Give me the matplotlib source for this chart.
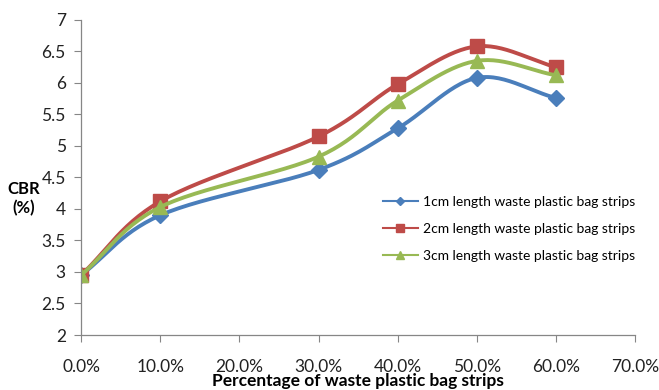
import numpy as np
import matplotlib
matplotlib.use("Agg")
import matplotlib.pyplot as plt
from matplotlib.ticker import FuncFormatter, MultipleLocator

plt.rcParams['font.family'] = ['Lato', 'DejaVu Sans']

x_pct = [0, 10, 30, 40, 50, 60]
cbr_1cm = [2.95, 3.90, 4.62, 5.28, 6.08, 5.76]
cbr_2cm = [2.95, 4.12, 5.15, 5.98, 6.58, 6.25]
cbr_3cm = [2.95, 4.03, 4.83, 5.72, 6.35, 6.12]
labels = ["1cm length waste plastic bag strips",
          "2cm length waste plastic bag strips",
          "3cm length waste plastic bag strips"]
colors = ["#4A7EBB", "#BE4B48", "#98B954"]
markers = ["D", "s", "^"]
msizes = [8, 10, 10]


def smooth(xs, ys, n=30):
    # Catmull-Rom style smoothing similar to Excel smoothed lines
    xs = np.asarray(xs, float)
    ys = np.asarray(ys, float)
    P = np.column_stack([xs, ys])
    P = np.vstack([P[0] - (P[1] - P[0]), P, P[-1] + (P[-1] - P[-2])])
    out = []
    for i in range(1, len(P) - 2):
        p0, p1, p2, p3 = P[i - 1], P[i], P[i + 1], P[i + 2]
        t = np.linspace(0, 1, n)[:, None]
        c = 0.5 * ((2 * p1) + (-p0 + p2) * t + (2 * p0 - 5 * p1 + 4 * p2 - p3) * t ** 2
                   + (-p0 + 3 * p1 - 3 * p2 + p3) * t ** 3)
        out.append(c if i == len(P) - 3 else c[:-1])
    c = np.vstack(out)
    return c[:, 0], c[:, 1]


fig = plt.figure(figsize=(6.59, 3.9), dpi=100)
ax = fig.add_axes([0.123, 0.141, 0.841, 0.808])

for ys, lab, col, mk, ms in zip([cbr_1cm, cbr_2cm, cbr_3cm], labels, colors, markers, msizes):
    sx, sy = smooth(x_pct, ys)
    ax.plot(sx, sy, color=col, lw=2.8, solid_capstyle='round')
    ax.plot(x_pct, ys, linestyle='none', marker=mk, color=col, ms=ms, mec=col)
    ax.plot([], [], color=col, lw=1.5, marker=mk, ms=ms * 0.55, label=lab)

ax.set_xlim(0, 70)
ax.set_ylim(2, 7)
ax.xaxis.set_major_locator(MultipleLocator(10))
ax.yaxis.set_major_locator(MultipleLocator(0.5))
ax.xaxis.set_major_formatter(FuncFormatter(lambda v, p: f"{v:.1f}%"))
ax.yaxis.set_major_formatter(FuncFormatter(lambda v, p: f"{v:g}"))

for s in ['top', 'right']:
    ax.spines[s].set_visible(False)
for s in ['left', 'bottom']:
    ax.spines[s].set_color('#868686')
    ax.spines[s].set_linewidth(0.9)
ax.tick_params(axis='both', colors='#868686', labelcolor='#222222', labelsize=12.5,
               direction='out', length=5)
ax.tick_params(axis='x', pad=12)
ax.tick_params(axis='y', pad=6)

ax.set_xlabel("Percentage of waste plastic bag strips", fontsize=12.5, fontweight='bold',
              labelpad=-1)
fig.text(0.036, 0.49, "CBR\n(%)", fontsize=12, fontweight='bold', ha='center',
         va='center', linespacing=1.2)

leg = ax.legend(loc='upper left', bbox_to_anchor=(0.535, 0.46), frameon=False,
                fontsize=10, handlelength=2.5, handletextpad=0.4, labelspacing=1.1,
                borderaxespad=0)

fig.savefig("out.png", dpi=100)
